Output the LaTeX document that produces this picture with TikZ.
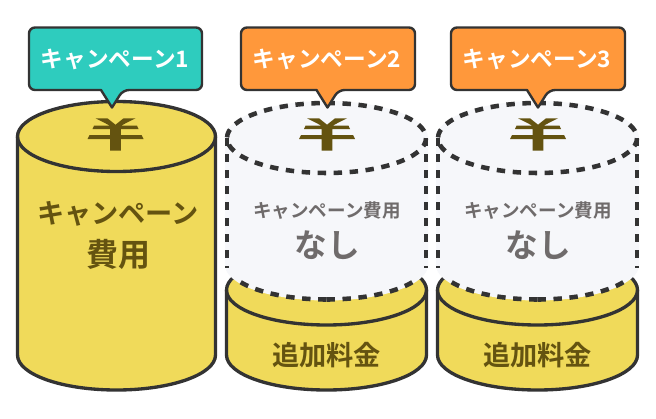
\documentclass[tikz,border=0pt]{standalone}
\usepackage{fontspec}
\newfontfamily\jp{Noto Sans CJK JP Bold}
\definecolor{tealc}{HTML}{2ECCBE}
\definecolor{orangec}{HTML}{FF983B}
\definecolor{yellowc}{HTML}{F0DA5A}
\definecolor{lightc}{HTML}{F6F7FA}
\definecolor{darkc}{HTML}{333333}
\definecolor{brownc}{HTML}{645310}
\definecolor{grayc}{HTML}{6F6B6B}
\tikzset{
  x=0.75pt,y=-0.75pt,
  solidline/.style={draw=darkc,line width=2.5pt,line join=round},
  dashline/.style={draw=darkc,line width=3.4pt,dash pattern=on 6.3pt off 5.7pt},
  bubble/.style={draw=darkc,line width=1.8pt,line join=round},
  labelw/.style={font=\jp\fontsize{17pt}{19pt}\selectfont,text=white,inner sep=0pt},
  labelb/.style={font=\jp\fontsize{20.4pt}{22pt}\selectfont,text=brownc,inner sep=0pt},
  labelc/.style={font=\jp\fontsize{24pt}{26pt}\selectfont,text=brownc,inner sep=0pt},
  labels/.style={font=\jp\fontsize{13.9pt}{16pt}\selectfont,text=grayc,inner sep=0pt},
  labeln/.style={font=\jp\fontsize{24.5pt}{26pt}\selectfont,text=grayc,inner sep=0pt},
  yenpic/.pic={
    \fill[brownc] (-20,-16.2) -- (-8,-16.2) -- (0,-9.8) -- (8,-16.2) -- (20,-16.2) -- (5.4,-8.8) -- (21.5,-8.8) -- (23,-5.5) -- (5.4,-5.5) -- (5.4,0.5) -- (26,0.5) -- (28,4.5) -- (5.4,4.5) -- (5.4,16.2) -- (-5.4,16.2) -- (-5.4,4.5) -- (-28,4.5) -- (-26,0.5) -- (-5.4,0.5) -- (-5.4,-5.5) -- (-23,-5.5) -- (-21.5,-8.8) -- (-5.4,-8.8) -- cycle;
  }
}
\newcommand{\bubblebox}[4]{% x0,x1,tipx,color
  \path[bubble,fill=#4,rounded corners=4.5pt]
    (#1,27.5) -- (#2,27.5) -- (#2,90) -- (#3+11,90) [sharp corners] -- (#3,107.5) -- (#3-11,90) [rounded corners=4.5pt] -- (#1,90) -- cycle;
}
\newcommand{\lowercyl}[1]{% center x
  \path[solidline,fill=yellowc] (#1-100,290) arc[start angle=180,end angle=360,x radius=100,y radius=35] -- (#1+100,355) arc[start angle=0,end angle=180,x radius=100,y radius=35] -- cycle;
  \draw[solidline] (#1-100,290) arc[start angle=180,end angle=0,x radius=100,y radius=35];
}
\newcommand{\ghost}[1]{% center x
  \fill[lightc] (#1-101.5,138) arc[start angle=180,end angle=360,x radius=101.5,y radius=37] -- (#1+101.5,265) arc[start angle=0,end angle=180,x radius=101.5,y radius=35.5] -- cycle;
  \draw[dashline] (#1,103) arc[start angle=-90,end angle=270,x radius=99.5,y radius=35];
  \draw[dashline] (#1-99.5,138) -- (#1-99.5,268);
  \draw[dashline] (#1+99.5,138) -- (#1+99.5,268);
  \draw[dashline] (#1,299.5) arc[start angle=90,end angle=155,x radius=99.5,y radius=35];
  \draw[dashline] (#1,299.5) arc[start angle=90,end angle=25,x radius=99.5,y radius=35];
}
\begin{document}
\begin{tikzpicture}
\useasboundingbox (0,0) rectangle (656,418);
\fill[white] (0,0) rectangle (656,418);
% first cylinder
\path[solidline,fill=yellowc] (17.5,136.5) arc[start angle=180,end angle=360,x radius=99,y radius=35] -- (215.5,355) arc[start angle=0,end angle=180,x radius=99,y radius=35] -- cycle;
\draw[solidline] (17.5,136.5) arc[start angle=180,end angle=0,x radius=99,y radius=35];
\pic at (115.5,134.5) {yenpic};
\node[labelb] (c1a) at (118,214) {キャンペーン};
\node[labelc] (c1b) at (118,254) {費用};
% second
\lowercyl{326.5}
\ghost{326.5}
\pic at (327,134.5) {yenpic};
\node[labels] (c2a) at (327,211) {キャンペーン費用};
\node[labeln] (c2b) at (327,245) {なし};
\node[labelb] (c2c) at (326.5,355) {追加料金};
% third
\lowercyl{537.5}
\ghost{537.5}
\pic at (538,134.5) {yenpic};
\node[labels] (c3a) at (538,211) {キャンペーン費用};
\node[labeln] (c3b) at (538,245) {なし};
\node[labelb] (c3c) at (537.5,355) {追加料金};
% bubbles
\bubblebox{29}{202}{112}{tealc}
\bubblebox{241}{415}{327.5}{orangec}
\bubblebox{451}{625}{538}{orangec}
\node[labelw] (b1) at (115,59) {キャンペーン1};
\node[labelw] (b2) at (327,59) {キャンペーン2};
\node[labelw] (b3) at (537,59) {キャンペーン3};
\end{tikzpicture}
\end{document}
